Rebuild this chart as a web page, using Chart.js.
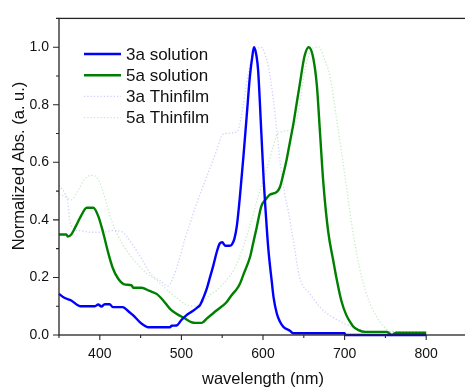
<!DOCTYPE html>
<html>
<head>
<meta charset="utf-8">
<script src="https://cdn.jsdelivr.net/npm/chart.js@4.4.1/dist/chart.umd.min.js"></script>
<style>
  html, body { margin: 0; padding: 0; overflow: hidden; background: #fff; }
  #wrap { width: 468px; height: 387px; }
</style>
</head>
<body>
<div id="wrap"><canvas id="c" width="468" height="387"></canvas></div>
<script>
// Absorption spectra (normalized), wavelength in nm
const sol3aNm  = [350,356,365,372,376,394,398,402,406,412,416,428,436,441,449,455,459,486,488,494,500,506,512,519,523,527,531,535,539,543,547,550,554,559,562,565,568,572,576,580,584,587,589,592,594,598,601,603,606.5,610.7,613,617,621,625,633,637,700,701,800];
const sol3aAbs = [0.143,0.13,0.12,0.105,0.10,0.10,0.106,0.099,0.107,0.107,0.097,0.097,0.08,0.068,0.045,0.032,0.027,0.027,0.032,0.033,0.052,0.068,0.08,0.094,0.105,0.13,0.16,0.20,0.24,0.285,0.318,0.322,0.31,0.31,0.315,0.335,0.38,0.49,0.62,0.76,0.90,0.97,1.0,0.97,0.92,0.70,0.53,0.44,0.30,0.187,0.13,0.074,0.045,0.028,0.015,0.006,0.006,0.0,0.0];

const sol5aNm  = [350,359,361,365,371,377,384,392,398,404,410,416,422,430,439,441,451,461,470,478,486,494,504,512,517,525,531,543,555,562,568,572,576,584,588,592,598,603,608,614,618,621,625,629,633,637,641,645,651,656,661,666,670,674,680,686,690,696,702,708,711,717,725,752,755,758,761,763,800];
const sol5aAbs = [0.349,0.349,0.342,0.349,0.38,0.414,0.442,0.442,0.414,0.357,0.289,0.232,0.198,0.176,0.172,0.164,0.164,0.153,0.142,0.119,0.091,0.074,0.058,0.045,0.042,0.042,0.057,0.085,0.113,0.14,0.16,0.18,0.21,0.27,0.32,0.37,0.448,0.47,0.487,0.493,0.50,0.516,0.56,0.61,0.67,0.73,0.80,0.87,0.97,1.0,0.97,0.867,0.697,0.527,0.357,0.26,0.198,0.119,0.07,0.04,0.028,0.017,0.011,0.011,0.005,0.0,0.005,0.008,0.008];

const film3aNm  = [350,357,361,363,369,377,389,402,416,428,438,451,463,475,483,490,497,505,512,519,531,543,549,553,568,576,582,588,592,598,603,606.5,612.6,617,621,626,631,637,645,658,670,682,696,715,735,800];
const film3aAbs = [0.52,0.493,0.46,0.40,0.368,0.362,0.357,0.357,0.363,0.357,0.323,0.266,0.21,0.187,0.17,0.20,0.26,0.34,0.40,0.46,0.55,0.64,0.69,0.70,0.705,0.80,0.91,0.97,0.99,1.0,0.97,0.935,0.82,0.71,0.60,0.50,0.43,0.33,0.20,0.142,0.096,0.068,0.045,0.023,0.011,0.011];

const film5aNm  = [350,358,365,373,381,389,397,406,414,422,434,447,459,471,483,494,503,512,523,535,543,555,565,575,585,596,605,612,618,630,639,645,650,656,663,669,675,682,690,696,703,709,715,721,731,740,748,756,800];
const film5aAbs = [0.49,0.48,0.47,0.50,0.54,0.555,0.545,0.48,0.40,0.346,0.289,0.244,0.21,0.187,0.155,0.13,0.11,0.10,0.108,0.14,0.155,0.19,0.23,0.30,0.39,0.50,0.58,0.65,0.70,0.71,0.73,0.80,0.90,0.97,1.0,1.0,0.96,0.90,0.754,0.64,0.50,0.38,0.28,0.20,0.11,0.06,0.03,0.013,0.01];

const seriesLabels = ['3a solution', '5a solution', '3a Thinfilm', '5a Thinfilm'];
const xTicks = [400, 500, 600, 700, 800];
const yTicks = [0.0, 0.2, 0.4, 0.6, 0.8, 1.0];
const xMinor = [350, 450, 550, 650, 750, 850];
const yMinor = [0.1, 0.3, 0.5, 0.7, 0.9, 1.1];
const xTitle = 'wavelength (nm)';
const yTitle = 'Normalized Abs. (a. u.)';

const FONT = '"Liberation Sans", Arial, sans-serif';
const AXIS_COLOR = '#262626';

function pts(xs, ys) { return xs.map((x, i) => ({ x: x, y: ys[i] })); }

function lineSet(label, xs, ys, color, width, dash) {
  return {
    label: label,
    data: pts(xs, ys),
    borderColor: color,
    backgroundColor: color,
    borderWidth: width,
    borderDash: dash || [],
    pointRadius: 0,
    fill: false,
    tension: 0.3,
    cubicInterpolationMode: 'monotone',
    clip: 4
  };
}

// Axes frame, tick marks, axis titles and the in-plot legend
const framePlugin = {
  id: 'frame',
  afterDraw(chart) {
    const { ctx, chartArea: a, scales: { x, y } } = chart;
    ctx.save();
    ctx.strokeStyle = AXIS_COLOR;
    ctx.lineWidth = 1.3;
    ctx.strokeRect(a.left, a.top, a.right - a.left, a.bottom - a.top);

    ctx.lineWidth = 1.1;
    ctx.beginPath();
    xTicks.forEach(v => { const px = x.getPixelForValue(v); ctx.moveTo(px, a.bottom); ctx.lineTo(px, a.bottom + 5); });
    xMinor.forEach(v => { const px = x.getPixelForValue(v); ctx.moveTo(px, a.bottom); ctx.lineTo(px, a.bottom + 3); });
    yTicks.forEach(v => { const py = y.getPixelForValue(v); ctx.moveTo(a.left, py); ctx.lineTo(a.left - 6, py); });
    yMinor.forEach(v => { const py = y.getPixelForValue(v); ctx.moveTo(a.left, py); ctx.lineTo(a.left - 3, py); });
    ctx.stroke();

    ctx.fillStyle = '#111';
    ctx.font = '16.5px ' + FONT;
    ctx.textAlign = 'center';
    ctx.textBaseline = 'middle';
    ctx.fillText(xTitle, (x.getPixelForValue(350) + x.getPixelForValue(850)) / 2, 379);
    ctx.save();
    ctx.translate(19, 166);
    ctx.rotate(-Math.PI / 2);
    ctx.fillText(yTitle, 0, 0);
    ctx.restore();

    // legend
    ctx.font = '17px ' + FONT;
    ctx.textAlign = 'left';
    chart.data.datasets.forEach((ds, i) => {
      const cy = 54 + i * 21.2;
      ctx.strokeStyle = ds.borderColor;
      ctx.lineWidth = ds.borderWidth;
      ctx.setLineDash(ds.borderDash || []);
      ctx.beginPath();
      ctx.moveTo(84, cy);
      ctx.lineTo(121, cy);
      ctx.stroke();
      ctx.setLineDash([]);
      ctx.fillStyle = '#111';
      ctx.fillText(ds.label, 126, cy + 1);
    });
    ctx.restore();
  }
};

new Chart(document.getElementById('c'), {
  type: 'line',
  data: {
    datasets: [
      lineSet(seriesLabels[0], sol3aNm, sol3aAbs, '#0000ff', 2.4),
      lineSet(seriesLabels[1], sol5aNm, sol5aAbs, '#008000', 2.4),
      lineSet(seriesLabels[2], film3aNm, film3aAbs, 'rgba(110,110,255,0.32)', 1.3, [1.3, 2]),
      lineSet(seriesLabels[3], film5aNm, film5aAbs, 'rgba(40,170,40,0.25)', 1.3, [1.3, 2])
    ]
  },
  options: {
    responsive: false,
    animation: false,
    layout: { padding: { top: 12, right: 1, left: 0, bottom: 0 } },
    plugins: { legend: { display: false }, tooltip: { enabled: false } },
    scales: {
      x: {
        type: 'linear',
        min: 350,
        max: 850,
        grid: { display: false, drawTicks: false },
        border: { display: false },
        afterFit(s) { s.height = 52; },
        afterBuildTicks(s) { s.ticks = xTicks.map(v => ({ value: v })); },
        ticks: { color: '#111', font: { family: FONT, size: 14 }, padding: 11, maxRotation: 0, autoSkip: false,
                 callback: v => String(v) }
      },
      y: {
        type: 'linear',
        min: 0,
        max: 1.1,
        grid: { display: false, drawTicks: false },
        border: { display: false },
        afterFit(s) { s.width = 59; },
        afterBuildTicks(s) { s.ticks = yTicks.map(v => ({ value: v })); },
        ticks: { color: '#111', font: { family: FONT, size: 14 }, padding: 10, autoSkip: false,
                 callback: v => Number(v).toFixed(1) }
      }
    }
  },
  plugins: [framePlugin]
});
</script>
</body>
</html>
